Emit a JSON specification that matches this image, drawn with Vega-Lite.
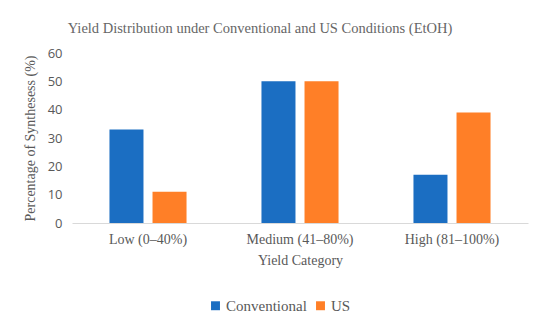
{
  "$schema": "https://vega.github.io/schema/vega-lite/v6.json",
  "width": 456,
  "height": 170,
  "autosize": {"type": "none"},
  "padding": {"left": 72, "top": 53, "right": 22, "bottom": 110},
  "background": "white",
  "title": {
    "text": "Yield Distribution under Conventional and US Conditions (EtOH)",
    "font": "Liberation Serif",
    "fontSize": 14.5,
    "fontWeight": "normal",
    "color": "#666666",
    "anchor": "middle",
    "dx": -40,
    "offset": 11
  },
  "data": {
    "values": [
      {"category": "Low (0–40%)", "condition": "Conventional", "value": 33},
      {"category": "Low (0–40%)", "condition": "US", "value": 11},
      {"category": "Medium (41–80%)", "condition": "Conventional", "value": 50},
      {"category": "Medium (41–80%)", "condition": "US", "value": 50},
      {"category": "High (81–100%)", "condition": "Conventional", "value": 17},
      {"category": "High (81–100%)", "condition": "US", "value": 39}
    ]
  },
  "mark": {"type": "bar"},
  "encoding": {
    "x": {
      "field": "category",
      "type": "nominal",
      "sort": ["Low (0–40%)", "Medium (41–80%)", "High (81–100%)"],
      "scale": {"paddingInner": 0.493, "paddingOuter": 0.2465},
      "axis": {
        "title": "Yield Category",
        "labelAngle": 0,
        "labelFont": "Liberation Serif",
        "labelFontSize": 14,
        "labelColor": "#595959",
        "labelPadding": 9,
        "titleFont": "Liberation Serif",
        "titleFontSize": 14,
        "titleFontWeight": "normal",
        "titleColor": "#595959",
        "titlePadding": 7,
        "ticks": false,
        "domainColor": "#d9d9d9"
      }
    },
    "xOffset": {
      "field": "condition",
      "type": "nominal",
      "scale": {"paddingInner": 0.21, "paddingOuter": 0}
    },
    "y": {
      "field": "value",
      "type": "quantitative",
      "scale": {"domain": [0, 60]},
      "axis": {
        "title": "Percentage of Synthesess (%)",
        "values": [0, 10, 20, 30, 40, 50, 60],
        "labelOverlap": false,
        "grid": false,
        "domain": false,
        "ticks": false,
        "labelFont": "Open Sans",
        "labelFontSize": 13,
        "labelColor": "#595959",
        "labelPadding": 10,
        "titleFont": "Liberation Serif",
        "titleFontSize": 14,
        "titleFontWeight": "normal",
        "titleColor": "#595959",
        "titlePadding": 10
      }
    },
    "color": {
      "field": "condition",
      "type": "nominal",
      "scale": {"domain": ["Conventional", "US"], "range": ["#1B6EC2", "#FF7F27"]},
      "legend": {
        "title": null,
        "orient": "none",
        "direction": "horizontal",
        "legendX": 136,
        "legendY": 245,
        "symbolType": "square",
        "symbolSize": 80,
        "symbolStrokeWidth": 0,
        "labelFont": "Liberation Serif",
        "labelFontSize": 15,
        "labelColor": "#595959",
        "columnPadding": 6,
        "labelOffset": 3
      }
    }
  },
  "config": {"view": {"stroke": null}}
}
